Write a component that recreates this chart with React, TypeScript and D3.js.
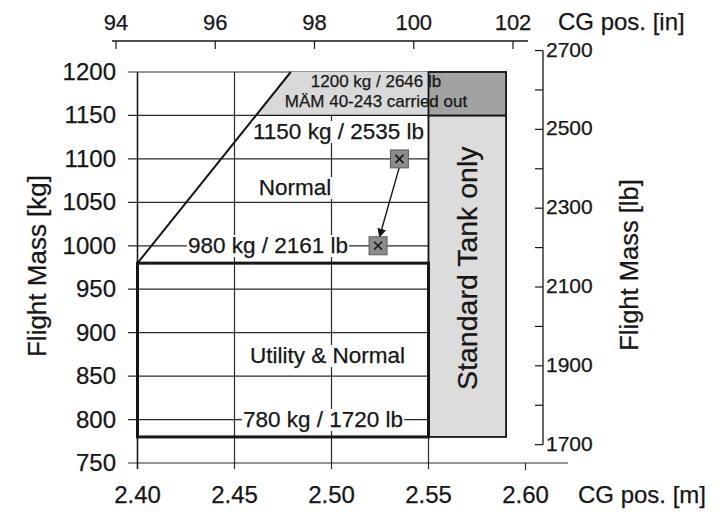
import * as d3 from 'd3'
import React, { useEffect, useRef } from 'react'

// axis ticks
const kgTicks = [750, 800, 850, 900, 950, 1000, 1050, 1100, 1150, 1200]
const cgTicksM = [2.4, 2.45, 2.5, 2.55, 2.6]
const cgTicksIn = [94, 96, 98, 100, 102]
const lbTicks = [1700, 1800, 1900, 2000, 2100, 2200, 2300, 2400, 2500, 2600, 2700]
const lbLabels = [1700, 1900, 2100, 2300, 2500, 2700]

// envelope, [cg m, mass kg]
const utilityBox: [number, number][] = [[2.4, 780], [2.55, 980]]
const normalDiagonal: [number, number][] = [[2.4, 980], [2.479, 1200]]
const mamZone: [number, number][] = [[2.461, 1150], [2.479, 1200], [2.55, 1200], [2.55, 1150]]
const mamTankZone: [number, number][] = [[2.55, 1150], [2.59, 1200]]
const standardTankZone: [number, number][] = [[2.55, 780], [2.59, 1150]]
const cgShift: [number, number][] = [[2.535, 1100], [2.524, 1000]]

const limitLabels = ['1200 kg / 2646 lb', 'MÄM 40-243 carried out', '1150 kg / 2535 lb', '980 kg / 2161 lb', '780 kg / 1720 lb']
const zoneLabels = ['Normal', 'Utility & Normal', 'Standard Tank only']
const axisTitles = ['Flight Mass [kg]', 'Flight Mass [lb]', 'CG pos. [m]', 'CG pos. [in]']

const KG_PER_LB = 1 / 2.20462
const font = '"Liberation Sans", Arial, sans-serif'
const ink = '#161616'

const App = () => {
  const ref = useRef<SVGSVGElement>(null)

  useEffect(() => {
    if (!ref.current) return
    const svg = d3.select(ref.current)
    svg.selectAll('*').remove()

    const x = d3.scaleLinear().domain([2.4, 2.55]).range([137.5, 428.5])
    const y = d3.scaleLinear().domain([750, 1200]).range([463, 72])
    const xIn = d3.scaleLinear().domain([94, 102]).range([116, 513])
    const yLb = d3.scaleLinear().domain([1700, 2700]).range([y(1700 * KG_PER_LB), y(2700 * KG_PER_LB)])
    const left = 128

    svg.append('rect').attr('width', 721).attr('height', 512).attr('fill', '#fff')

    const defs = svg.append('defs')
    defs
      .append('marker')
      .attr('id', 'arrow')
      .attr('viewBox', '0 0 10 10')
      .attr('refX', 9)
      .attr('refY', 5)
      .attr('markerWidth', 9)
      .attr('markerHeight', 9)
      .attr('markerUnits', 'userSpaceOnUse')
      .attr('orient', 'auto')
      .append('path')
      .attr('d', 'M0,0L10,5L0,10Z')
      .attr('fill', ink)

    const grid = svg.append('g').attr('stroke', '#2a2a2a').attr('stroke-width', 1.2)
    // horizontal grid
    kgTicks
      .filter((k) => k > 750 && k < 1200)
      .forEach((k) => {
        grid.append('line').attr('x1', left).attr('x2', x(2.55)).attr('y1', y(k)).attr('y2', y(k))
      })
    grid.append('line').attr('x1', left).attr('x2', x(2.59)).attr('y1', y(1200)).attr('y2', y(1200))
    // vertical grid
    cgTicksM
      .filter((c) => c <= 2.55)
      .forEach((c) => {
        grid.append('line').attr('x1', x(c)).attr('x2', x(c)).attr('y1', y(1200)).attr('y2', y(750) + 6)
      })
    grid.append('line').attr('x1', x(2.6)).attr('x2', x(2.6)).attr('y1', y(750)).attr('y2', y(750) + 7)
    // bottom axis
    grid.append('line').attr('x1', left).attr('x2', 568).attr('y1', y(750)).attr('y2', y(750))

    // shaded zones
    const poly = d3.line<[number, number]>().x((d) => x(d[0])).y((d) => y(d[1]))
    svg.append('path').attr('d', poly(mamZone) + 'Z').attr('fill', '#d9d9d9')
    svg
      .append('rect')
      .attr('x', x(standardTankZone[0][0]))
      .attr('y', y(standardTankZone[1][1]))
      .attr('width', x(standardTankZone[1][0]) - x(standardTankZone[0][0]))
      .attr('height', y(standardTankZone[0][1]) - y(standardTankZone[1][1]))
      .attr('fill', '#dcdcdc')
      .attr('stroke', ink)
      .attr('stroke-width', 1.8)
    svg
      .append('rect')
      .attr('x', x(mamTankZone[0][0]))
      .attr('y', y(mamTankZone[1][1]))
      .attr('width', x(mamTankZone[1][0]) - x(mamTankZone[0][0]))
      .attr('height', y(mamTankZone[0][1]) - y(mamTankZone[1][1]))
      .attr('fill', '#a2a2a2')
      .attr('stroke', ink)
      .attr('stroke-width', 1.8)
    // lower edge of 1200 kg zone
    svg
      .append('line')
      .attr('x1', x(mamZone[0][0]))
      .attr('x2', x(2.55))
      .attr('y1', y(1150))
      .attr('y2', y(1150))
      .attr('stroke', ink)
      .attr('stroke-width', 1.3)

    // envelope lines
    svg.append('path').attr('d', poly(normalDiagonal)).attr('stroke', ink).attr('stroke-width', 2).attr('fill', 'none')
    svg
      .append('rect')
      .attr('x', x(utilityBox[0][0]))
      .attr('y', y(utilityBox[1][1]))
      .attr('width', x(utilityBox[1][0]) - x(utilityBox[0][0]))
      .attr('height', y(utilityBox[0][1]) - y(utilityBox[1][1]))
      .attr('fill', 'none')
      .attr('stroke', ink)
      .attr('stroke-width', 3)
    // left axis line
    svg
      .append('line')
      .attr('x1', x(2.4))
      .attr('x2', x(2.4))
      .attr('y1', y(1200))
      .attr('y2', y(750) + 6)
      .attr('stroke', ink)
      .attr('stroke-width', 1.4)

    // labels with white backing
    const label = (text: string, px: number, py: number, size: number, anchor: string, backing: boolean) => {
      const t = svg
        .append('text')
        .attr('x', px)
        .attr('y', py)
        .attr('font-size', size)
        .attr('font-family', font)
        .attr('text-anchor', anchor)
        .attr('fill', ink)
        .attr('stroke', ink)
        .attr('stroke-width', 0.25)
        .text(text)
      if (backing) {
        const b = (t.node() as SVGTextElement).getBBox()
        svg
          .insert('rect', () => t.node())
          .attr('x', b.x - 1)
          .attr('y', b.y + 2)
          .attr('width', b.width + 2)
          .attr('height', b.height - 3)
          .attr('fill', '#fff')
      }
      return t
    }
    label(limitLabels[0], 376, 87, 17, 'middle', false)
    label(limitLabels[1], 376, 107, 17, 'middle', false)
    label(limitLabels[2], 253, 139, 22.5, 'start', true)
    label(zoneLabels[0], 295, 195, 22.5, 'middle', true)
    label(limitLabels[3], 188, 253, 22.5, 'start', true)
    label(zoneLabels[1], 250, 363, 22.5, 'start', true)
    label(limitLabels[4], 243, 427, 22.5, 'start', true)

    svg
      .append('text')
      .attr('transform', `translate(477,${(y(780) + y(1150)) / 2 - 8}) rotate(-90)`)
      .attr('text-anchor', 'middle')
      .attr('font-size', 28.5)
      .attr('font-family', font)
      .attr('fill', ink)
      .attr('stroke', ink)
      .attr('stroke-width', 0.25)
      .text(zoneLabels[2])

    // CG shift markers
    const [m0, m1] = cgShift
    svg
      .append('line')
      .attr('x1', x(m0[0]))
      .attr('y1', y(m0[1]) + 8)
      .attr('x2', x(m1[0]) + 1.5)
      .attr('y2', y(m1[1]) - 9)
      .attr('stroke', ink)
      .attr('stroke-width', 1.4)
      .attr('marker-end', 'url(#arrow)')
    cgShift.forEach(([c, k]) => {
      const g = svg.append('g').attr('transform', `translate(${x(c)},${y(k)})`)
      g.append('rect').attr('x', -9).attr('y', -9).attr('width', 18).attr('height', 18).attr('fill', '#8c8c8c').attr('stroke', '#5a5a5a')
      g.append('path').attr('d', 'M-4,-4L4,4M4,-4L-4,4').attr('stroke', ink).attr('stroke-width', 1.6)
    })

    const styleText = (s: d3.Selection<any, any, any, any>, size: number) =>
      s.attr('font-size', size).attr('font-family', font).attr('fill', ink).attr('stroke', ink).attr('stroke-width', 0.25)

    // left axis ticks labels
    svg
      .append('g')
      .selectAll('text')
      .data(kgTicks)
      .join('text')
      .attr('x', 116)
      .attr('y', (d) => y(d) + 8)
      .attr('text-anchor', 'end')
      .call(styleText, 24)
      .text((d) => d)

    // bottom axis labels
    svg
      .append('g')
      .selectAll('text')
      .data(cgTicksM)
      .join('text')
      .attr('x', (d) => x(d))
      .attr('y', 503)
      .attr('text-anchor', 'middle')
      .call(styleText, 24)
      .text((d) => d.toFixed(2))

    // top axis
    const top = svg.append('g')
    top.append('line').attr('x1', 112).attr('x2', 528).attr('y1', 41).attr('y2', 41).attr('stroke', ink).attr('stroke-width', 1.4)
    cgTicksIn.forEach((d) => {
      top.append('line').attr('x1', xIn(d)).attr('x2', xIn(d)).attr('y1', 41).attr('y2', 49).attr('stroke', ink).attr('stroke-width', 1.2)
      top
        .append('text')
        .attr('x', xIn(d))
        .attr('y', 30)
        .attr('text-anchor', 'middle')
        .call(styleText, 22)
        .text(d)
    })

    // right axis
    const right = svg.append('g')
    const rx = 543
    right.append('line').attr('x1', rx).attr('x2', rx).attr('y1', yLb(2700)).attr('y2', yLb(1700)).attr('stroke', ink).attr('stroke-width', 1.3)
    lbTicks.forEach((d) => {
      right.append('line').attr('x1', rx - 8).attr('x2', rx).attr('y1', yLb(d)).attr('y2', yLb(d)).attr('stroke', ink).attr('stroke-width', 1.2)
    })
    lbLabels.forEach((d) => {
      right
        .append('text')
        .attr('x', rx + 3)
        .attr('y', yLb(d) + 6)
        .call(styleText, 21)
        .text(d)
    })

    // axis titles
    svg
      .append('text')
      .attr('transform', 'translate(46,266) rotate(-90)')
      .attr('text-anchor', 'middle')
      .call(styleText, 26)
      .text(axisTitles[0])
    svg
      .append('text')
      .attr('transform', 'translate(638,265) rotate(-90)')
      .attr('text-anchor', 'middle')
      .call(styleText, 25.5)
      .text(axisTitles[1])
    svg.append('text').attr('x', 578).attr('y', 503).call(styleText, 24).text(axisTitles[2])
    svg.append('text').attr('x', 558).attr('y', 30).call(styleText, 24).text(axisTitles[3])
  }, [])

  return <svg ref={ref} width={721} height={512} style={{ position: 'absolute', left: 0, top: 0 }} />
}

export default App
